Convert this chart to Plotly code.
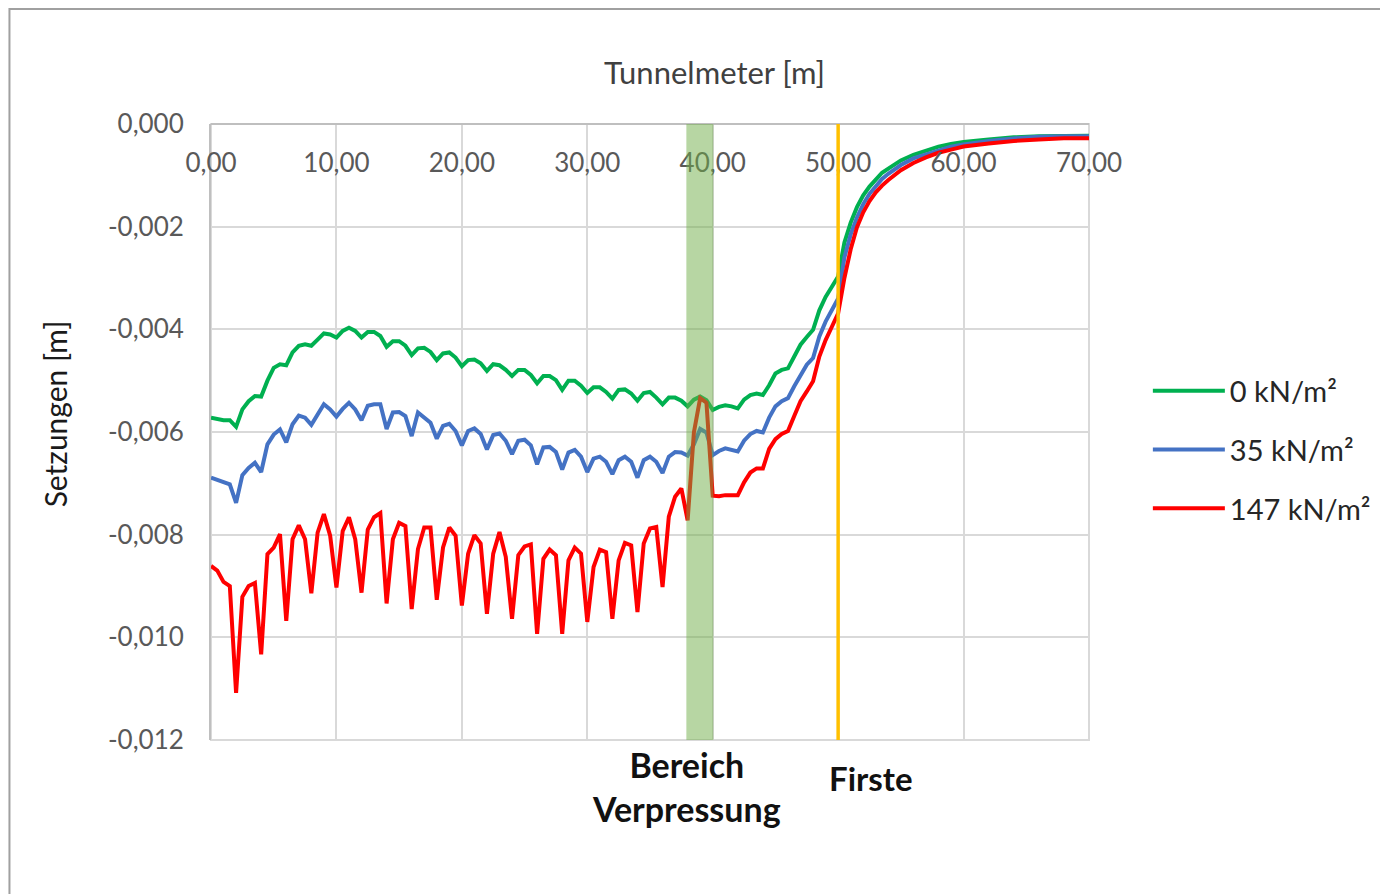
import plotly.graph_objects as go

# ---------------- data ----------------
tunnelmeter = [
    0.0, 0.5, 1.0, 1.5, 2.0, 2.5, 3.0, 3.5, 4.0, 4.5, 5.0, 5.5, 6.0, 6.5, 7.0, 7.5, 8.0, 8.5, 9.0, 9.5,
    10.0, 10.5, 11.0, 11.5, 12.0, 12.5, 13.0, 13.5, 14.0, 14.5, 15.0, 15.5, 16.0, 16.5, 17.0, 17.5, 18.0, 18.5, 19.0, 19.5,
    20.0, 20.5, 21.0, 21.5, 22.0, 22.5, 23.0, 23.5, 24.0, 24.5, 25.0, 25.5, 26.0, 26.5, 27.0, 27.5, 28.0, 28.5, 29.0, 29.5,
    30.0, 30.5, 31.0, 31.5, 32.0, 32.5, 33.0, 33.5, 34.0, 34.5, 35.0, 35.5, 36.0, 36.5, 37.0, 37.5, 38.0, 38.5, 39.0, 39.5,
    40.0, 40.5, 41.0, 41.5, 42.0, 42.5, 43.0, 43.5, 44.0, 44.5, 45.0, 45.5, 46.0, 46.5, 47.0, 47.5, 48.0, 48.5, 49.0, 49.5,
    50.0, 50.5, 51.0, 51.5, 52.0, 52.5, 53.0, 53.5, 54.0,
    55.0, 56.0, 57.0, 58.0, 59.0, 60.0, 62.0, 64.0, 66.0, 68.0, 70.0,
]

setzung_0 = [
    -0.00572, -0.00574, -0.00577, -0.00577, -0.00590, -0.00556, -0.00540, -0.00530, -0.00531, -0.00500,
    -0.00475, -0.00468, -0.00470, -0.00445, -0.00432, -0.00429, -0.00432, -0.00420, -0.00408, -0.00410,
    -0.00416, -0.00403, -0.00397, -0.00403, -0.00416, -0.00405, -0.00405, -0.00413, -0.00434, -0.00423,
    -0.00423, -0.00432, -0.00450, -0.00437, -0.00436, -0.00444, -0.00460, -0.00447, -0.00445, -0.00455,
    -0.00472, -0.00460, -0.00459, -0.00466, -0.00481, -0.00468, -0.00470, -0.00479, -0.00491, -0.00479,
    -0.00479, -0.00489, -0.00505, -0.00491, -0.00491, -0.00499, -0.00518, -0.00500, -0.00500, -0.00510,
    -0.00524, -0.00513, -0.00513, -0.00522, -0.00535, -0.00518, -0.00517, -0.00525, -0.00539, -0.00524,
    -0.00522, -0.00533, -0.00546, -0.00533, -0.00533, -0.00539, -0.00550, -0.00537, -0.00531, -0.00538,
    -0.00557, -0.00551, -0.00548, -0.00550, -0.00554, -0.00537, -0.00528, -0.00525, -0.00528, -0.00509,
    -0.00486, -0.00479, -0.00476, -0.00453, -0.00430, -0.00415, -0.00401, -0.00363, -0.00337, -0.00317,
    -0.00297, -0.00231, -0.00192, -0.00162, -0.00139, -0.00122, -0.00107, -0.00095, -0.00087,
    -0.00071, -0.00060, -0.00051, -0.00044, -0.00039, -0.00035, -0.00030, -0.00026, -0.00024, -0.00023, -0.00023,
]

setzung_35 = [
    -0.00689, -0.00693, -0.00699, -0.00702, -0.00738, -0.00684, -0.00670, -0.00660, -0.00678, -0.00624,
    -0.00605, -0.00595, -0.00620, -0.00585, -0.00568, -0.00572, -0.00586, -0.00566, -0.00546, -0.00556,
    -0.00570, -0.00555, -0.00543, -0.00556, -0.00577, -0.00549, -0.00546, -0.00546, -0.00594, -0.00562,
    -0.00561, -0.00569, -0.00608, -0.00562, -0.00572, -0.00582, -0.00613, -0.00588, -0.00584, -0.00598,
    -0.00626, -0.00598, -0.00593, -0.00604, -0.00634, -0.00606, -0.00603, -0.00617, -0.00643, -0.00617,
    -0.00615, -0.00626, -0.00663, -0.00630, -0.00629, -0.00639, -0.00673, -0.00640, -0.00635, -0.00648,
    -0.00678, -0.00652, -0.00648, -0.00658, -0.00682, -0.00655, -0.00648, -0.00658, -0.00689, -0.00655,
    -0.00648, -0.00658, -0.00680, -0.00648, -0.00639, -0.00640, -0.00646, -0.00624, -0.00594, -0.00601,
    -0.00645, -0.00637, -0.00632, -0.00635, -0.00638, -0.00617, -0.00604, -0.00598, -0.00601, -0.00572,
    -0.00550, -0.00540, -0.00534, -0.00511, -0.00488, -0.00469, -0.00456, -0.00414, -0.00385, -0.00363,
    -0.00340, -0.00260, -0.00215, -0.00182, -0.00156, -0.00136, -0.00120, -0.00107, -0.00097,
    -0.00080, -0.00067, -0.00059, -0.00051, -0.00044, -0.00040, -0.00033, -0.00028, -0.00025, -0.00024, -0.00024,
]

setzung_147 = [
    -0.00861, -0.00870, -0.00892, -0.00900, -0.01108, -0.00921, -0.00900, -0.00894, -0.01033, -0.00838,
    -0.00825, -0.00799, -0.00968, -0.00809, -0.00782, -0.00809, -0.00914, -0.00796, -0.00760, -0.00802,
    -0.00903, -0.00793, -0.00766, -0.00809, -0.00913, -0.00790, -0.00766, -0.00758, -0.00934, -0.00809,
    -0.00777, -0.00783, -0.00945, -0.00828, -0.00786, -0.00786, -0.00927, -0.00825, -0.00786, -0.00802,
    -0.00938, -0.00837, -0.00801, -0.00817, -0.00954, -0.00837, -0.00795, -0.00843, -0.00964, -0.00840,
    -0.00823, -0.00819, -0.00993, -0.00847, -0.00829, -0.00840, -0.00993, -0.00850, -0.00825, -0.00837,
    -0.00970, -0.00863, -0.00829, -0.00834, -0.00964, -0.00850, -0.00816, -0.00821, -0.00951, -0.00817,
    -0.00788, -0.00785, -0.00902, -0.00765, -0.00726, -0.00710, -0.00772, -0.00601, -0.00534, -0.00543,
    -0.00724, -0.00725, -0.00723, -0.00723, -0.00723, -0.00698, -0.00679, -0.00671, -0.00671, -0.00633,
    -0.00614, -0.00604, -0.00598, -0.00569, -0.00540, -0.00521, -0.00501, -0.00453, -0.00421, -0.00395,
    -0.00369, -0.00300, -0.00244, -0.00201, -0.00172, -0.00150, -0.00133, -0.00120, -0.00109,
    -0.00090, -0.00076, -0.00065, -0.00056, -0.00050, -0.00044, -0.00038, -0.00033, -0.00030, -0.00028, -0.00028,
]

series_names = ["0 kN/m²", "35 kN/m²", "147 kN/m²"]
series_colors = ["#00B050", "#4472C4", "#FF0000"]

x_tickvals = [0, 10, 20, 30, 40, 50, 60, 70]
x_ticktext = ["0,00", "10,00", "20,00", "30,00", "40,00", "50,00", "60,00", "70,00"]
y_tickvals = [0.0, -0.002, -0.004, -0.006, -0.008, -0.010, -0.012]
y_ticktext = ["0,000", "-0,002", "-0,004", "-0,006", "-0,008", "-0,010", "-0,012"]

verpressung_bereich = [37.9, 40.05]
firste_x = 50.0

# ---------------- figure ----------------
OFF = 8  # page body margin
W, H = 1388 - OFF, 894 - OFF
PL, PR, PT, PB = 211, 1091, 124, 740  # plot area in page pixels
ML, MT = PL - OFF, PT - OFF
PW, PH = PR - PL, PB - PT
MR, MB = W - ML - PW, H - MT - PH

fig = go.Figure()
for name, color, ys in zip(series_names, series_colors, [setzung_0, setzung_35, setzung_147]):
    fig.add_trace(go.Scatter(
        x=tunnelmeter, y=ys, mode="lines", name=name, legendgroup=name,
        line=dict(color=color, width=4),
    ))

FONT = "Lato"
tick_font = dict(family=FONT, size=26, color="#595959")


def px_x(page_x):
    return (page_x - PL) / PW


def px_y(page_y):
    return 1 - (page_y - PT) / PH


fig.update_layout(
    width=W, height=H, autosize=False,
    margin=dict(l=ML, r=MR, t=MT, b=MB, pad=0),
    paper_bgcolor="white", plot_bgcolor="white",
    showlegend=True,
    legend=dict(
        x=px_x(1150), y=px_y(450), xanchor="left", yanchor="middle",
        font=dict(family=FONT, size=29, color="#262626"),
        bgcolor="rgba(0,0,0,0)", tracegroupgap=18, itemwidth=72,
    ),
    xaxis=dict(
        range=[0, 70], tickvals=x_tickvals, ticktext=x_ticktext,
        anchor="free", position=1, side="bottom",
        showgrid=True, gridcolor="#D9D9D9", gridwidth=2,
        showline=True, linecolor="#BFBFBF", linewidth=2,
        ticks="outside", ticklen=16, tickcolor="rgba(0,0,0,0)",
        tickfont=tick_font, zeroline=False,
    ),
    yaxis=dict(
        range=[-0.012, 0], tickvals=y_tickvals, ticktext=y_ticktext,
        showgrid=True, gridcolor="#D9D9D9", gridwidth=2,
        showline=True, linecolor="#BFBFBF", linewidth=2,
        ticks="outside", ticklen=20, tickcolor="rgba(0,0,0,0)",
        tickfont=tick_font, zeroline=False,
    ),
)

# right / bottom grid edges
fig.add_shape(type="rect", xref="paper", yref="paper", x0=0, x1=1, y0=0, y1=1,
              line=dict(color="#D9D9D9", width=2), layer="below")
# Verpressung band (drawn above the lines, semi-transparent)
fig.add_shape(type="rect", xref="x", yref="paper",
              x0=verpressung_bereich[0], x1=verpressung_bereich[1], y0=0, y1=1,
              fillcolor="#70AD47", opacity=0.5, line=dict(width=0), layer="above")
# Firste line
fig.add_shape(type="line", xref="x", yref="paper", x0=firste_x, x1=firste_x, y0=0, y1=1,
              line=dict(color="#FFC000", width=3.5), layer="above")
# chart frame (left and top edges)
fig.add_shape(type="path", xref="paper", yref="paper",
              path=f"M {px_x(9)} {px_y(900)} L {px_x(9)} {px_y(9)} L {px_x(1400)} {px_y(9)}",
              line=dict(color="#A0A0A0", width=2), layer="above")

ann = dict(showarrow=False, xref="paper", yref="paper", xanchor="center", yanchor="middle")
fig.add_annotation(text="Tunnelmeter [m]", x=px_x(716), y=px_y(72),
                   font=dict(family=FONT, size=31, color="#404040"), **ann)
fig.add_annotation(text="Setzungen [m]", x=px_x(55), y=px_y(414), textangle=-90,
                   font=dict(family=FONT, size=30, color="#1a1a1a"), **ann)
fig.add_annotation(text="<b>Bereich</b><br><b>Verpressung</b>", x=px_x(688), y=px_y(786),
                   font=dict(family=FONT, size=34, color="#111111"), **ann)
fig.add_annotation(text="<b>Firste</b>", x=px_x(873), y=px_y(778),
                   font=dict(family=FONT, size=33, color="#111111"), **ann)

fig.write_html("out.html")
